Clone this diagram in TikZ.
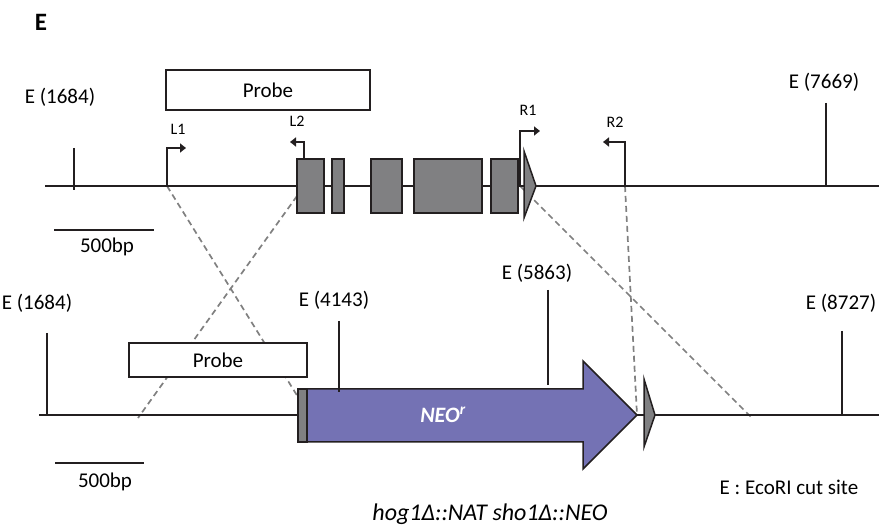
\documentclass[tikz,border=0pt]{standalone}
\usepackage{fontspec}
\setmainfont{Carlito}
\usetikzlibrary{arrows.meta}
\definecolor{ink}{RGB}{35,31,32}
\definecolor{exon}{RGB}{128,128,130}
\definecolor{neo}{RGB}{116,114,180}
\definecolor{guidegrey}{RGB}{128,128,128}
\begin{document}
\begin{tikzpicture}[x=1pt,y=-1pt,
  dna/.style={draw=ink,line width=2pt},
  site/.style={draw=ink,line width=1.8pt},
  exonbox/.style={draw=ink,fill=exon,line width=1.5pt,inner sep=0pt,outer sep=0pt,anchor=north west},
  probebox/.style={draw=ink,fill=white,line width=1.5pt,inner sep=0pt,outer sep=0pt,font=\fontsize{21}{24}\selectfont},
  lbl/.style={font=\fontsize{21}{24}\selectfont,inner sep=0pt},
  plbl/.style={font=\fontsize{16}{18}\selectfont,inner sep=0pt},
  primer/.style={draw=ink,line width=2.2pt,-{Triangle[length=6pt,width=9pt]}},
  guide/.style={draw=guidegrey,line width=1.7pt,dash pattern=on 6pt off 4pt}]
\useasboundingbox (0,0) rectangle (879,529);

% panel letter
\node[inner sep=0pt,font=\fontsize{25}{28}\selectfont\bfseries] (panel) at (41,22) {E};

% ---------------- wild-type locus ----------------
\coordinate (wtL) at (45,186);
\coordinate (wtR) at (879,186);
\coordinate (l1base) at (167,186);
\coordinate (r1base) at (520,186);
\coordinate (r2base) at (625,186);

% ---------------- deletion locus ----------------
\coordinate (delL) at (39,415);
\coordinate (delR) at (879,415);

% crossover guides
\coordinate (gA) at (298,397);
\coordinate (gB) at (297,196);
\coordinate (gBend) at (138,418);
\coordinate (gC) at (752,418);
\coordinate (neotip) at (637,415);
\draw[guide] (l1base) -- (gA);
\draw[guide] (gB) -- (gBend);
\draw[guide] (r1base) -- (gC);
\draw[guide] (r2base) -- (neotip);

\draw[dna] (wtL) -- (wtR);
\draw[dna] (delL) -- (delR);

% EcoRI sites, wild type
\node[lbl] (e1684a) at (60,97) {E (1684)};
\coordinate (t1a) at (74,148); \coordinate (t1b) at (74,190);
\draw[site] (t1a) -- (t1b);
\node[lbl] (e7669) at (824,82) {E (7669)};
\coordinate (t2a) at (826,103); \coordinate (t2b) at (826,186);
\draw[site] (t2a) -- (t2b);

% probe, wild type
\node[probebox,minimum width=204pt,minimum height=40pt] (probeA) at (268,90) {Probe};

% exons
\node[exonbox,minimum width=27pt,minimum height=54pt] (ex1) at (297,159) {};
\node[exonbox,minimum width=12pt,minimum height=54pt] (ex2) at (332,159) {};
\node[exonbox,minimum width=31pt,minimum height=54pt] (ex3) at (371,159) {};
\node[exonbox,minimum width=68pt,minimum height=54pt] (ex4) at (414,159) {};
\node[exonbox,minimum width=27pt,minimum height=54pt] (ex5) at (491,159) {};
\coordinate (tA) at (524,151);
\coordinate (tB) at (536,186);
\coordinate (tC) at (524,218);
\draw[draw=ink,fill=exon,line width=1.5pt,line join=miter] (tA) -- (tB) -- (tC) -- cycle;

% primers
\coordinate (l1top) at (167,148); \coordinate (l1tip) at (186,148);
\draw[primer] (l1base) -- (l1top) -- (l1tip);
\node[plbl] (L1) at (178,129) {L1};
\coordinate (l2base) at (304,159); \coordinate (l2top) at (304,142); \coordinate (l2tip) at (290,142);
\draw[primer] (l2base) -- (l2top) -- (l2tip);
\node[plbl] (L2) at (297,121) {L2};
\coordinate (r1top) at (520,131); \coordinate (r1tip) at (540,131);
\draw[primer] (r1base) -- (r1top) -- (r1tip);
\node[plbl] (R1) at (528,110) {R1};
\coordinate (r2top) at (625,142); \coordinate (r2tip) at (603,142);
\draw[primer] (r2base) -- (r2top) -- (r2tip);
\node[plbl] (R2) at (615,122) {R2};

% scale bar, wild type
\coordinate (sa1) at (54,230); \coordinate (sa2) at (154,230);
\draw[dna] (sa1) -- (sa2);
\node[lbl] (bpA) at (107,247) {500bp};

% EcoRI sites, deletion
\node[lbl] (e1684b) at (37,303) {E (1684)};
\coordinate (t3a) at (47,333); \coordinate (t3b) at (47,415);
\draw[site] (t3a) -- (t3b);
\node[lbl] (e8727) at (841,303) {E (8727)};
\coordinate (t4a) at (842,331); \coordinate (t4b) at (842,415);
\draw[site] (t4a) -- (t4b);

% probe, deletion
\node[probebox,minimum width=178pt,minimum height=34pt] (probeB) at (218,360) {Probe};

% NEO cassette
\node[exonbox,minimum width=9pt,minimum height=53pt] (stub) at (298,389) {};
\coordinate (n1) at (307,389);
\coordinate (n2) at (583,389);
\coordinate (n3) at (583,361);
\coordinate (n5) at (583,469);
\coordinate (n6) at (583,442);
\coordinate (n7) at (307,442);
\draw[draw=ink,fill=neo,line width=1.5pt,line join=miter]
  (n1) -- (n2) -- (n3) -- (neotip) -- (n5) -- (n6) -- (n7) -- cycle;
\node[inner sep=0pt,text=white,font=\fontsize{22}{24}\selectfont\bfseries\itshape] (neo) at (443,415) {NEO\textsuperscript{r}};
\coordinate (t5a) at (339,321); \coordinate (t5b) at (339,392);
\draw[site] (t5a) -- (t5b);
\node[lbl] (e4143) at (334,300) {E (4143)};
\coordinate (t6a) at (548,290); \coordinate (t6b) at (548,385);
\draw[site] (t6a) -- (t6b);
\node[lbl] (e5863) at (537,273) {E (5863)};

% terminator
\coordinate (uA) at (644,379);
\coordinate (uB) at (655,415);
\coordinate (uC) at (644,447);
\draw[draw=ink,fill=exon,line width=1.5pt,line join=miter] (uA) -- (uB) -- (uC) -- cycle;

% scale bar, deletion
\coordinate (sb1) at (55,463); \coordinate (sb2) at (144,463);
\draw[dna] (sb1) -- (sb2);
\node[lbl] (bpB) at (105,482) {500bp};

\node[lbl] (key) at (789,487) {E : EcoRI cut site};
\node[inner sep=0pt,font=\fontsize{24}{28}\selectfont\itshape] (title) at (490,514) {hog1Δ::NAT sho1Δ::NEO};
\end{tikzpicture}
\end{document}
